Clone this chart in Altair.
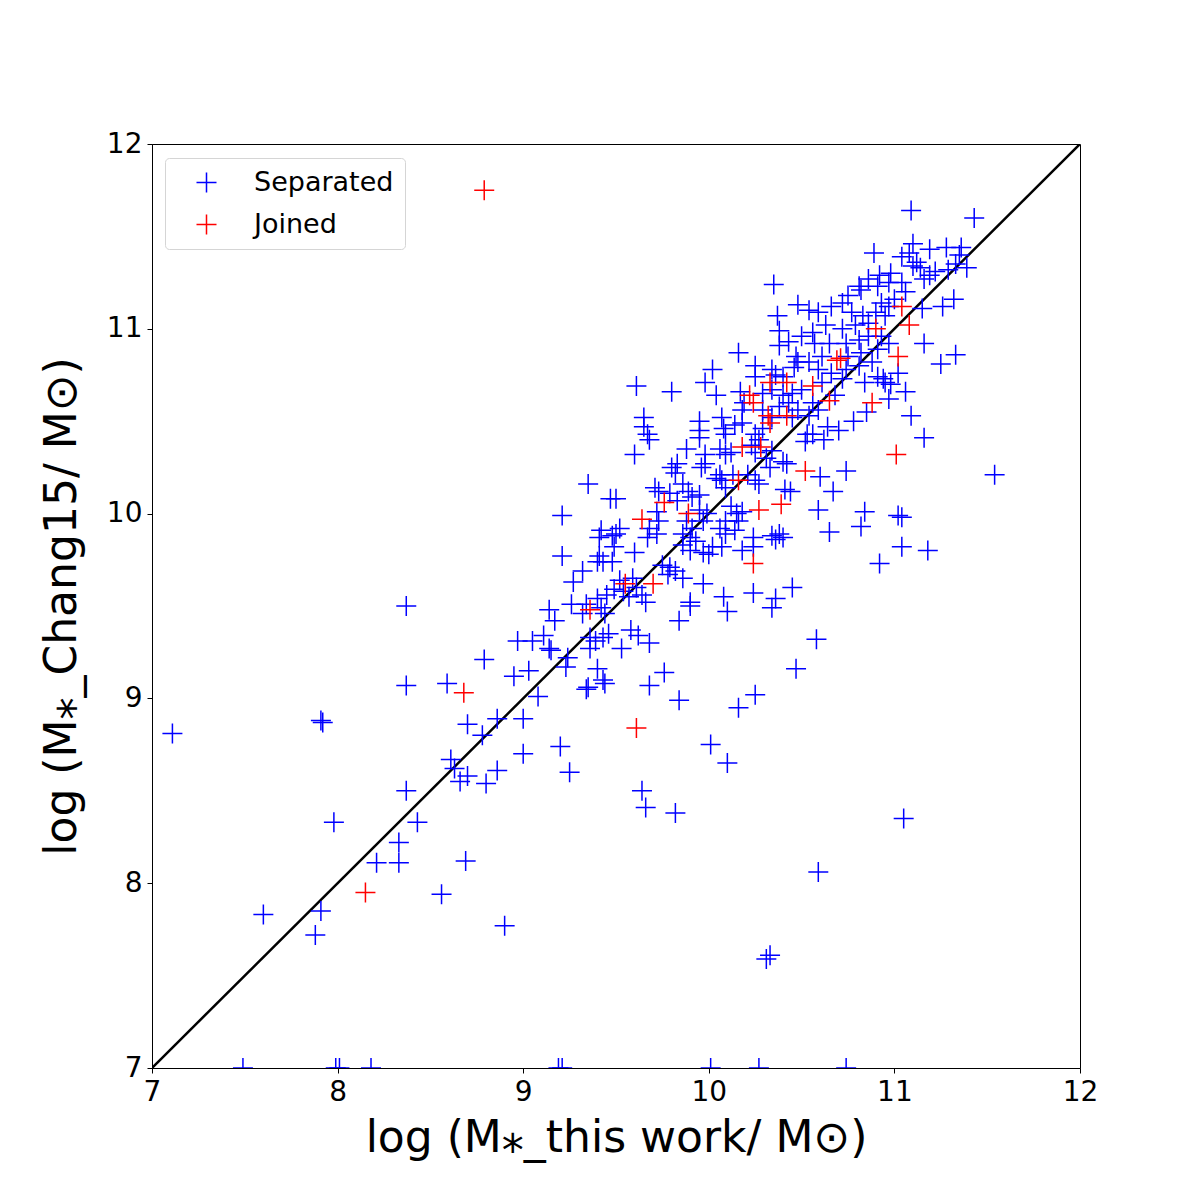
import altair as alt
import pandas as pd

# ---- data ----
sep_x = [7.11, 7.91, 7.92, 7.60, 7.88, 7.91, 7.98, 8.21, 8.33, 8.33, 8.37, 8.37, 8.37, 8.43, 8.56, 8.59, 8.69, 8.90,
         8.70, 8.78, 8.86, 9.00, 9.20, 9.00, 9.25, 8.61, 8.63, 8.66, 8.70, 8.80, 8.86,
         8.79, 8.95, 9.03, 8.97, 9.05, 9.11, 9.14, 9.15, 9.24, 9.23, 9.08,
         9.36, 9.39, 9.43, 9.46, 9.36, 9.40, 9.43, 9.44, 9.35, 9.34,
         7.49, 7.99, 8.01, 8.18, 9.19, 9.21, 10.01, 10.27, 10.74,
         9.84, 9.90, 10.10, 10.34, 10.58, 10.47, 10.25, 10.16, 9.58, 9.62, 9.68, 9.53, 9.76, 9.68, 9.84, 10.01, 10.10,
         9.64, 9.66, 9.82, 11.05, 10.59, 10.31, 10.33,
         11.54, 11.09, 11.43,
         11.16, 10.74, 10.60, 10.67, 10.59, 10.84, 10.82, 10.65, 11.02, 11.04, 11.04, 11.18, 10.92, 10.53, 10.56, 10.64, 10.52, 11.09,
         10.89, 11.10, 11.19, 11.04, 11.08, 11.12, 11.14, 11.10, 11.35, 11.33, 11.29, 11.22, 11.19, 11.16, 11.26, 11.15, 11.16, 11.33, 11.25, 10.94,
         10.81, 10.86, 10.91, 10.97, 10.98, 10.92, 10.82, 10.75, 10.72, 10.66, 10.59, 10.54, 10.77, 10.83, 10.90, 10.95, 10.86, 10.79, 10.72, 10.63,
         10.56, 10.50, 10.57, 10.65, 10.74, 10.81, 10.86, 10.93, 10.97, 10.91, 10.82, 10.75, 10.61, 10.54, 10.59, 10.66, 10.74, 10.81, 10.88, 10.91,
         10.95, 10.84, 10.72, 10.61, 10.50, 10.56, 10.68, 10.59, 10.54, 11.04, 11.06, 11.00, 10.97, 10.93,
         10.35, 10.48, 10.37, 10.38, 10.38, 10.43, 10.47, 10.48, 10.46, 10.16, 10.02, 9.98, 10.04, 9.61, 9.80, 10.25, 10.25, 10.17, 10.19, 10.18,
         10.34, 10.36, 10.40, 10.29, 10.34, 10.40, 10.45, 10.43, 10.48, 10.38, 10.29, 10.34, 10.45, 9.65, 9.95, 10.07,
         9.65, 9.67, 9.68, 9.60, 9.95, 9.95, 9.88, 9.98, 9.98, 9.96, 10.08, 10.14, 10.18, 10.09, 10.06, 10.09, 10.12, 10.23, 10.25, 10.31,
         10.34, 10.29, 10.25, 10.27, 10.40, 10.42, 9.80, 9.83, 9.82, 10.06, 10.07, 10.04, 10.13, 10.09, 10.21, 10.25, 10.27, 9.71, 9.73, 9.79,
         9.86, 9.89, 9.95, 9.91, 9.83, 9.50, 9.72, 9.73, 9.68, 9.72, 9.95, 9.99, 9.97, 9.88, 9.91, 10.12, 10.15, 10.18, 10.16, 10.09,
         10.06, 10.09, 10.14, 10.44, 10.38, 10.40, 10.24, 10.24, 10.34, 10.36, 9.86, 9.90, 9.86, 9.93, 9.90, 9.97, 10.02, 10.00, 10.07, 9.67,
         9.60, 9.52, 9.50, 10.18, 9.75, 9.79, 9.82, 9.78, 9.86, 9.52, 9.59, 9.61, 9.54, 9.57, 9.64, 9.66, 9.97, 10.08, 10.24, 10.36,
         10.45, 9.90,
         9.35, 9.47, 9.21, 9.21, 9.42, 9.41, 9.48, 9.41, 9.43, 9.48, 9.40, 9.49, 9.32, 9.27, 9.49, 9.45, 9.40, 9.26, 9.34, 9.42,
         9.44, 9.32, 9.14, 9.17,
         10.98, 11.02, 11.06, 10.97, 10.62, 10.70, 10.78, 10.85, 10.41, 10.33, 11.28, 11.36, 11.39, 11.32]

sep_y = [8.81, 8.88, 8.87, 7.83, 7.72, 7.85, 8.33, 8.11, 8.11, 8.22, 9.50, 9.07, 8.50, 8.33, 7.94, 9.08, 8.12, 7.77,
         8.86, 8.80, 8.89, 8.89, 8.74, 8.70, 8.60, 8.67, 8.62, 8.55, 8.58, 8.54, 8.61,
         9.21, 9.12, 9.15, 9.31, 9.31, 9.34, 9.27, 9.26, 9.22, 9.17, 9.01,
         9.33, 9.31, 9.33, 9.35, 9.27, 9.16, 9.10, 9.08, 9.06, 9.05,
         7.00, 7.00, 7.00, 7.00, 7.00, 7.00, 7.00, 7.00, 7.00,
         9.42, 9.50, 9.47, 9.49, 9.32, 9.16, 9.02, 8.95, 9.37, 9.34, 9.30, 9.27, 9.14, 9.07, 8.99, 8.75, 8.65,
         8.50, 8.41, 8.38, 8.35, 8.06, 7.59, 7.61,
         10.21, 11.64, 11.60,
         10.41, 10.23, 10.20, 10.12, 10.02, 10.01, 9.93, 9.90, 9.99, 9.98, 9.82, 9.80, 9.73, 10.43, 10.43, 10.47, 10.39, 10.53,
         11.41, 11.46, 11.43, 11.39, 11.41, 11.36, 11.33, 11.34, 11.40, 11.35, 11.32, 11.31, 11.29, 11.27, 11.12, 11.11, 10.92, 10.86, 10.81, 10.73,
         11.23, 11.27, 11.23, 11.25, 11.30, 11.29, 11.21, 11.18, 11.14, 11.12, 11.09, 11.10, 11.09, 11.07, 11.09, 11.07, 11.03, 11.02, 11.00, 11.02,
         10.98, 10.96, 10.92, 10.92, 10.92, 10.94, 10.96, 10.96, 10.92, 10.89, 10.87, 10.85, 10.85, 10.82, 10.78, 10.76, 10.78, 10.80, 10.82, 10.74,
         10.71, 10.71, 10.73, 10.71, 10.67, 10.60, 10.64, 10.56, 10.53, 11.25, 11.20, 11.16, 11.12, 11.14,
         11.24, 11.13, 11.07, 10.99, 10.91, 10.93, 10.85, 10.82, 10.79, 10.87, 10.78, 10.71, 10.64, 10.69, 10.66, 10.80, 10.74, 10.66, 10.60, 10.56,
         10.78, 10.75, 10.74, 10.65, 10.67, 10.64, 10.65, 10.60, 10.56, 10.58, 10.56, 10.52, 10.52, 10.52, 10.50, 10.52,
         10.47, 10.43, 10.40, 10.32, 10.45, 10.41, 10.35, 10.32, 10.27, 10.25, 10.46, 10.48, 10.49, 10.43, 10.35, 10.32, 10.33, 10.37, 10.33, 10.30,
         10.34, 10.46, 10.43, 10.40, 10.28, 10.27, 10.25, 10.27, 10.22, 10.21, 10.18, 10.19, 10.21, 10.14, 10.21, 10.18, 10.16, 10.14, 10.12, 10.11,
         10.16, 10.12, 10.10, 10.09, 10.07, 10.08, 10.01, 9.96, 9.92, 9.89, 10.02, 10.00, 9.96, 9.96, 9.92, 10.04, 10.00, 10.01, 9.96, 9.96,
         9.92, 9.89, 9.91, 10.12, 9.89, 9.87, 9.87, 9.82, 9.88, 9.86, 9.89, 9.87, 9.83, 9.85, 9.80, 9.79, 9.82, 9.78, 9.82, 9.87,
         9.79, 9.92, 9.89, 9.80, 9.72, 9.71, 9.69, 9.67, 9.65, 9.64, 9.65, 9.60, 9.58, 9.55, 9.56, 9.52, 9.62, 9.55, 9.57, 9.54,
         9.60, 9.52,
         10.16, 10.08, 9.99, 9.77, 9.91, 9.87, 9.88, 9.77, 9.74, 9.74, 9.74, 9.82, 9.69, 9.63, 9.59, 9.56, 9.54, 9.51, 9.51, 9.49,
         9.46, 9.46, 9.48, 9.42,
         10.70, 10.76, 10.66, 10.62, 10.40, 10.45, 10.50, 10.55, 10.13, 10.25, 11.44, 11.44, 11.33, 11.16]

join_x = [8.79, 8.68, 8.15, 9.61, 9.36, 9.55, 9.70, 9.64, 9.76, 9.89, 10.16, 10.27, 10.39, 10.24, 10.18, 10.28, 10.33,
          10.52, 10.33, 10.42, 10.22, 10.24, 10.42, 10.32, 10.56, 10.65, 10.69, 10.71, 10.88, 10.90, 11.04, 11.08,
          11.02, 11.01]
join_y = [11.75, 9.03, 7.95, 8.84, 9.48, 9.62, 9.62, 9.97, 10.06, 10.00, 10.18, 10.02, 10.05, 9.73, 10.36, 10.36, 10.49,
          10.23, 10.71, 10.71, 10.64, 10.60, 10.53, 10.53, 10.69, 10.61, 10.83, 10.84, 10.60, 11.00, 11.12, 11.02,
          10.85, 10.32]

line_x = [7, 12]
line_y = [7, 12]
tick_values = [7, 8, 9, 10, 11, 12]
groups = ["Separated", "Joined"]
group_colors = ["blue", "red"]

n = min(len(sep_x), len(sep_y))
df = pd.DataFrame({
    "x": sep_x[:n] + join_x,
    "y": sep_y[:n] + join_y,
    "type": [groups[0]] * n + [groups[1]] * len(join_x),
})
line_df = pd.DataFrame({"x": line_x, "y": line_y})

plus = "M-1,0L1,0M0,-1L0,1"
xs = alt.Scale(domain=[7, 12], nice=False, zero=False)
ys = alt.Scale(domain=[7, 12], nice=False, zero=False)

x_axis = alt.Axis(title="log (M⁎_this work/ M⊙)", values=tick_values, format="d",
                  titleFontSize=44, titlePadding=10, labelFlush=False, labelOverlap=False)
y_axis = alt.Axis(title="log (M⁎_Chang15/ M⊙)", values=tick_values, format="d",
                  titleFontSize=44, titlePadding=22, labelFlush=False, labelOverlap=False)

points = alt.Chart(df).mark_point(
    shape=plus, filled=False, size=400, strokeWidth=1.5, opacity=1, clip=True
).encode(
    x=alt.X("x:Q", scale=xs, axis=x_axis),
    y=alt.Y("y:Q", scale=ys, axis=y_axis),
    color=alt.Color("type:N", scale=alt.Scale(domain=groups, range=group_colors),
                    legend=alt.Legend(title=None, orient="none", legendX=13, legendY=14,
                                      symbolType=plus, symbolSize=400, symbolStrokeWidth=1.5,
                                      symbolOffset=17, labelOffset=34, labelFontSize=27,
                                      labelFont="DejaVu Sans", labelColor="black",
                                      padding=11, rowPadding=14, strokeColor="#d5d5d5",
                                      fillColor="white", cornerRadius=4)),
)

diag = alt.Chart(line_df).mark_line(color="black", strokeWidth=2.5, clip=True).encode(
    x=alt.X("x:Q", scale=xs),
    y=alt.Y("y:Q", scale=ys),
)

chart = alt.layer(diag, points).properties(
    width=928, height=924,
    autosize=alt.AutoSizeParams(type="none"),
    padding={"left": 144, "top": 136, "right": 110, "bottom": 124},
).configure_axis(
    labelFont="DejaVu Sans", titleFont="DejaVu Sans", labelFontSize=28, labelColor="black",
    titleColor="black", titleFontWeight="normal", tickColor="black", domainColor="black",
    tickSize=5, tickWidth=1, domainWidth=1, labelPadding=5, grid=False,
).configure_view(stroke="black", strokeWidth=1)

chart.save("out.html", embed_options={"renderer": "svg", "actions": False})
